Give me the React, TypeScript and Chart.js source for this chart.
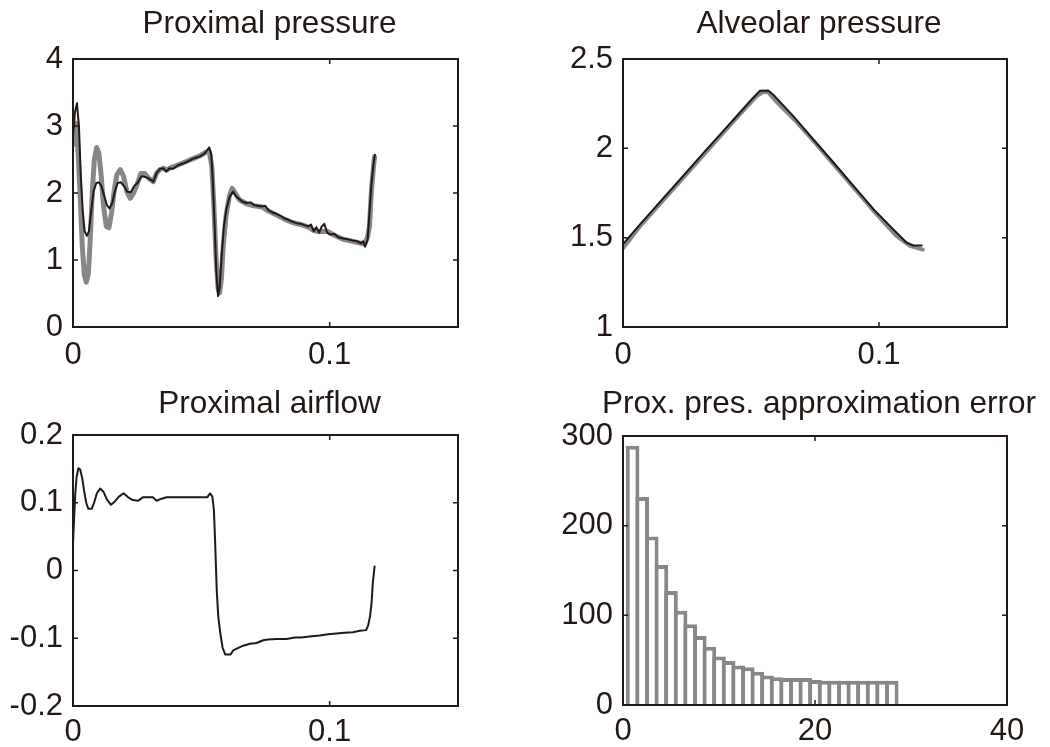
import React, { useEffect, useRef } from "react";
import { Chart, registerables } from "chart.js";

Chart.register(...registerables);

const INK = "#231815";
const GRAY = "#878787";
const FONT = "'Liberation Sans', Arial, Helvetica, sans-serif";

// ---------- Proximal pressure (top-left) ----------
const proxPressModelT = [0, 0.00078, 0.00155, 0.00233, 0.00298, 0.00376, 0.00453, 0.00544, 0.00622, 0.007, 0.008, 0.00907, 0.0101, 0.0111, 0.0122, 0.0132, 0.0142, 0.0153, 0.0163, 0.0174, 0.0187, 0.0199, 0.0212, 0.0225, 0.0238, 0.0251, 0.0267, 0.0282, 0.0298, 0.0313, 0.0326, 0.0339, 0.0352, 0.0363, 0.0376, 0.0389, 0.0404, 0.042, 0.0435, 0.0451, 0.0466, 0.0482, 0.0497, 0.0513, 0.0523, 0.0531, 0.0539, 0.0545, 0.0552, 0.0558, 0.0565, 0.0571, 0.0579, 0.0588, 0.0598, 0.0611, 0.0624, 0.0635, 0.0648, 0.0661, 0.0676, 0.0692, 0.0705, 0.072, 0.0738, 0.0749, 0.0762, 0.0777, 0.0793, 0.0808, 0.0824, 0.0839, 0.0855, 0.087, 0.0886, 0.0902, 0.0917, 0.0927, 0.0938, 0.0948, 0.0959, 0.0969, 0.0979, 0.099, 0.1003, 0.1018, 0.1034, 0.1052, 0.107, 0.1088, 0.1106, 0.1122, 0.113, 0.1138, 0.1148, 0.1155, 0.1163, 0.1171, 0.1176];
const proxPressModel = [2.85, 3.21, 3.34, 2.99, 2.3, 1.75, 1.43, 1.36, 1.43, 1.7, 2.02, 2.15, 2.16, 2.1, 1.95, 1.82, 1.77, 1.85, 2.02, 2.15, 2.16, 2.1, 2.02, 2.01, 2.1, 2.15, 2.25, 2.24, 2.21, 2.17, 2.3, 2.36, 2.37, 2.32, 2.37, 2.36, 2.4, 2.43, 2.45, 2.48, 2.51, 2.53, 2.55, 2.59, 2.64, 2.68, 2.57, 2.15, 1.5, 0.85, 0.46, 0.58, 1.05, 1.5, 1.77, 1.95, 2.02, 1.95, 1.91, 1.87, 1.85, 1.86, 1.82, 1.81, 1.8, 1.81, 1.74, 1.71, 1.69, 1.66, 1.62, 1.6, 1.57, 1.55, 1.54, 1.52, 1.5, 1.53, 1.43, 1.49, 1.41, 1.5, 1.54, 1.41, 1.38, 1.39, 1.34, 1.32, 1.31, 1.29, 1.28, 1.25, 1.28, 1.2, 1.31, 1.7, 2.15, 2.44, 2.57];

const proxPressMeasT = [0, 0.00052, 0.00117, 0.00194, 0.00285, 0.00363, 0.0044, 0.00518, 0.006, 0.0067, 0.0075, 0.0083, 0.0092, 0.0101, 0.011, 0.0119, 0.013, 0.014, 0.015, 0.0161, 0.0171, 0.0184, 0.0197, 0.021, 0.0223, 0.0236, 0.0249, 0.0264, 0.028, 0.0295, 0.0313, 0.0326, 0.0339, 0.0352, 0.0365, 0.0381, 0.0404, 0.0435, 0.0466, 0.0497, 0.0518, 0.0531, 0.0541, 0.0549, 0.0557, 0.0565, 0.0571, 0.0578, 0.0585, 0.0596, 0.0609, 0.062, 0.0632, 0.0648, 0.0676, 0.0705, 0.0738, 0.0762, 0.0793, 0.0824, 0.0855, 0.0886, 0.0917, 0.0938, 0.0959, 0.099, 0.1018, 0.1052, 0.1088, 0.1122, 0.1137, 0.1148, 0.1155, 0.1163, 0.1171, 0.1175];
const proxPressMeas = [2.72, 2.89, 3.04, 2.64, 1.9, 1.2, 0.78, 0.67, 0.8, 1.3, 2.0, 2.49, 2.68, 2.59, 2.25, 1.8, 1.5, 1.48, 1.7, 2.05, 2.27, 2.35, 2.25, 2.02, 1.92, 2.0, 2.12, 2.29, 2.29, 2.22, 2.17, 2.3, 2.35, 2.37, 2.34, 2.38, 2.41, 2.46, 2.51, 2.56, 2.61, 2.62, 2.39, 1.8, 1.05, 0.58, 0.51, 0.71, 1.2, 1.65, 1.95, 2.07, 2.0, 1.9, 1.84, 1.81, 1.79, 1.73, 1.67, 1.61, 1.56, 1.53, 1.49, 1.44, 1.42, 1.43, 1.37, 1.31, 1.28, 1.25, 1.24, 1.35, 1.5, 2.05, 2.4, 2.54];

// ---------- Alveolar pressure (top-right) ----------
const alvModelT = [0.0003, 0.0052, 0.0117, 0.0183, 0.0248, 0.0313, 0.0378, 0.0443, 0.0495, 0.0535, 0.0567, 0.0587, 0.0665, 0.0743, 0.0821, 0.09, 0.0978, 0.1056, 0.1108, 0.1134, 0.1167];
const alvModel = [1.468, 1.551, 1.656, 1.762, 1.866, 1.972, 2.075, 2.178, 2.262, 2.322, 2.324, 2.3, 2.18, 2.05, 1.922, 1.79, 1.66, 1.546, 1.472, 1.456, 1.456];
const alvMeasT = [0, 0.0065, 0.0143, 0.0222, 0.03, 0.0378, 0.0456, 0.0522, 0.0548, 0.0567, 0.06, 0.0678, 0.0756, 0.0834, 0.0913, 0.0991, 0.1069, 0.1121, 0.1171];
const alvMeas = [1.44, 1.561, 1.688, 1.814, 1.94, 2.065, 2.19, 2.292, 2.316, 2.314, 2.26, 2.148, 2.022, 1.892, 1.76, 1.63, 1.508, 1.454, 1.433];

// ---------- Proximal airflow (bottom-left) ----------
const flowT = [0, 0.0004, 0.0009, 0.0014, 0.0021, 0.0028, 0.0036, 0.0044, 0.0052, 0.006, 0.0073, 0.0083, 0.0093, 0.0106, 0.0119, 0.0132, 0.0148, 0.0163, 0.0179, 0.0197, 0.0215, 0.0233, 0.0254, 0.0272, 0.0311, 0.0326, 0.0345, 0.0365, 0.0443, 0.0523, 0.0534, 0.0543, 0.0549, 0.0554, 0.056, 0.0566, 0.0574, 0.0583, 0.0593, 0.0614, 0.0624, 0.064, 0.0663, 0.0689, 0.0715, 0.0741, 0.076, 0.0793, 0.0832, 0.0864, 0.089, 0.0929, 0.0961, 0.0994, 0.1026, 0.1058, 0.1091, 0.1117, 0.1142, 0.115, 0.1157, 0.1163, 0.1168, 0.1175];
const flow = [0.04, 0.074, 0.114, 0.138, 0.151, 0.149, 0.136, 0.116, 0.099, 0.091, 0.091, 0.101, 0.114, 0.121, 0.116, 0.105, 0.097, 0.102, 0.109, 0.114, 0.108, 0.104, 0.103, 0.108, 0.108, 0.103, 0.106, 0.108, 0.108, 0.108, 0.114, 0.109, 0.089, 0.04, -0.029, -0.068, -0.093, -0.114, -0.124, -0.124, -0.118, -0.115, -0.111, -0.108, -0.107, -0.103, -0.102, -0.101, -0.101, -0.099, -0.099, -0.097, -0.096, -0.094, -0.093, -0.092, -0.091, -0.089, -0.088, -0.081, -0.068, -0.049, -0.019, 0.006];

// ---------- Approximation error histogram (bottom-right) ----------
const errBins = [1, 2, 3, 4, 5, 6, 7, 8, 9, 10, 11, 12, 13, 14, 15, 16, 17, 18, 19, 20, 21, 22, 23, 24, 25, 26, 27, 28, 29, 30];
const errCounts = [289, 232, 188, 156, 127, 105, 90, 77, 65, 54, 49, 44, 42, 37, 33, 31, 30, 30, 30, 28, 27, 27, 27, 27, 27, 27, 27, 27, 0, 0];

// ---------- Tick labels ----------
const timeTicks = [0, 0.1];
const timeTickLabels = ["0", "0.1"];
const proxPressTicks = [0, 1, 2, 3, 4];
const proxPressTickLabels = ["0", "1", "2", "3", "4"];
const alvTicks = [1, 1.5, 2, 2.5];
const alvTickLabels = ["1", "1.5", "2", "2.5"];
const flowTicks = [-0.2, -0.1, 0, 0.1, 0.2];
const flowTickLabels = ["-0.2", "-0.1", "0", "0.1", "0.2"];
const errXTicks = [0, 20, 40];
const errXTickLabels = ["0", "20", "40"];
const errYTicks = [0, 100, 200, 300];
const errYTickLabels = ["0", "100", "200", "300"];

const pts = (xs: number[], ys: number[]) => xs.map((x, i) => ({ x, y: ys[i] }));

const boxPlugin = {
  id: "matlabBox",
  afterDraw(chart: any, _args: any, opts: any) {
    const { ctx, chartArea: a, scales } = chart;
    ctx.save();
    ctx.strokeStyle = INK;
    ctx.lineWidth = 1.5;
    const L = 5;
    ctx.beginPath();
    for (const v of opts.xTicks) {
      const px = scales.x.getPixelForValue(v);
      ctx.moveTo(px, a.bottom);
      ctx.lineTo(px, a.bottom - L);
      ctx.moveTo(px, a.top);
      ctx.lineTo(px, a.top + L);
    }
    for (const v of opts.yTicks) {
      const py = scales.y.getPixelForValue(v);
      ctx.moveTo(a.left, py);
      ctx.lineTo(a.left + L, py);
      ctx.moveTo(a.right, py);
      ctx.lineTo(a.right - L, py);
    }
    ctx.stroke();
    ctx.lineWidth = 2;
    ctx.strokeRect(a.left, a.top, a.right - a.left, a.bottom - a.top);
    ctx.font = `31.5px ${FONT}`;
    ctx.fillStyle = INK;
    ctx.textAlign = "center";
    ctx.textBaseline = "alphabetic";
    ctx.fillText(opts.title, (a.left + a.right) / 2 + 4, opts.titleY);
    ctx.restore();
  },
};

type PanelSpec = {
  type: "line" | "bar";
  datasets: any[];
  title: string;
  titleY: number;
  xMin: number;
  xMax: number;
  xTicks: number[];
  xLabels: string[];
  yMin: number;
  yMax: number;
  yTicks: number[];
  yLabels: string[];
  yWidth: number;
  xHeight: number;
  xPad: number;
  padding: { top: number; right: number; bottom: number; left: number };
};

function buildConfig(p: PanelSpec): any {
  const tickFont = { family: FONT, size: 31, lineHeight: 1.2 };
  return {
    type: p.type,
    data: { datasets: p.datasets },
    plugins: [boxPlugin],
    options: {
      animation: false,
      responsive: false,
      devicePixelRatio: 1,
      layout: { padding: p.padding },
      plugins: {
        legend: { display: false },
        tooltip: { enabled: false },
        title: { display: false },
        matlabBox: { title: p.title, titleY: p.titleY, xTicks: p.xTicks, yTicks: p.yTicks },
      },
      scales: {
        x: {
          type: "linear",
          min: p.xMin,
          max: p.xMax,
          offset: false,
          grid: { display: false, drawTicks: false, offset: false },
          border: { display: false },
          ticks: {
            font: tickFont,
            color: INK,
            padding: p.xPad,
            autoSkip: false,
            maxRotation: 0,
            minRotation: 0,
            callback: (_v: any, i: number) => p.xLabels[i],
          },
          afterBuildTicks: (s: any) => {
            s.ticks = p.xTicks.map((v) => ({ value: v }));
          },
          afterFit: (s: any) => {
            s.height = p.xHeight;
          },
        },
        y: {
          type: "linear",
          min: p.yMin,
          max: p.yMax,
          grid: { display: false, drawTicks: false },
          border: { display: false },
          ticks: {
            font: tickFont,
            color: INK,
            padding: 10,
            autoSkip: false,
            callback: (_v: any, i: number) => p.yLabels[i],
          },
          afterBuildTicks: (s: any) => {
            s.ticks = p.yTicks.map((v) => ({ value: v }));
          },
          afterFit: (s: any) => {
            s.width = p.yWidth;
          },
        },
      },
    },
  };
}

const lineDs = (data: any[], color: string, width: number) => ({
  type: "line",
  data,
  borderColor: color,
  backgroundColor: color,
  borderWidth: width,
  pointRadius: 0,
  tension: 0,
  fill: false,
  borderJoinStyle: "round",
  borderCapStyle: "round",
});

const panels: { left: number; top: number; w: number; h: number; spec: PanelSpec }[] = [
  {
    left: 0,
    top: 0,
    w: 525,
    h: 373,
    spec: {
      type: "line",
      datasets: [
        lineDs(pts(proxPressModelT, proxPressModel), INK, 2),
        lineDs(pts(proxPressMeasT, proxPressMeas), GRAY, 5),
      ],
      title: "Proximal pressure",
      titleY: 33,
      xMin: 0,
      xMax: 0.15,
      xTicks: timeTicks,
      xLabels: timeTickLabels,
      yMin: 0,
      yMax: 4,
      yTicks: proxPressTicks,
      yLabels: proxPressTickLabels,
      yWidth: 73,
      xHeight: 46,
      xPad: 10,
      padding: { top: 59, right: 67, bottom: 0, left: 0 },
    },
  },
  {
    left: 525,
    top: 0,
    w: 525,
    h: 373,
    spec: {
      type: "line",
      datasets: [
        lineDs(pts(alvModelT, alvModel), INK, 2),
        lineDs(pts(alvMeasT, alvMeas), GRAY, 4),
      ],
      title: "Alveolar pressure",
      titleY: 33,
      xMin: 0,
      xMax: 0.15,
      xTicks: timeTicks,
      xLabels: timeTickLabels,
      yMin: 1,
      yMax: 2.5,
      yTicks: alvTicks,
      yLabels: alvTickLabels,
      yWidth: 98,
      xHeight: 46,
      xPad: 10,
      padding: { top: 59, right: 43, bottom: 0, left: 0 },
    },
  },
  {
    left: 0,
    top: 373,
    w: 525,
    h: 374,
    spec: {
      type: "line",
      datasets: [lineDs(pts(flowT, flow), INK, 2)],
      title: "Proximal airflow",
      titleY: 40,
      xMin: 0,
      xMax: 0.15,
      xTicks: timeTicks,
      xLabels: timeTickLabels,
      yMin: -0.2,
      yMax: 0.2,
      yTicks: flowTicks,
      yLabels: flowTickLabels,
      yWidth: 73,
      xHeight: 41,
      xPad: 8,
      padding: { top: 62, right: 67, bottom: 0, left: 0 },
    },
  },
  {
    left: 525,
    top: 373,
    w: 525,
    h: 374,
    spec: {
      type: "bar",
      datasets: [
        {
          type: "bar",
          data: pts(errBins, errCounts),
          backgroundColor: "#ffffff",
          borderColor: GRAY,
          borderWidth: 4,
          borderSkipped: "start",
          barThickness: 13.6,
          inflateAmount: 0,
        },
      ],
      title: "Prox. pres. approximation error",
      titleY: 40,
      xMin: 0,
      xMax: 40,
      xTicks: errXTicks,
      xLabels: errXTickLabels,
      yMin: 0,
      yMax: 300,
      yTicks: errYTicks,
      yLabels: errYTickLabels,
      yWidth: 98,
      xHeight: 42,
      xPad: 8,
      padding: { top: 63, right: 43, bottom: 0, left: 0 },
    },
  },
];

function Panel({ left, top, w, h, spec }: { left: number; top: number; w: number; h: number; spec: PanelSpec }) {
  const ref = useRef<HTMLCanvasElement | null>(null);
  useEffect(() => {
    if (!ref.current) return;
    const chart = new Chart(ref.current, buildConfig(spec));
    return () => chart.destroy();
  }, []);
  return (
    <canvas
      ref={ref}
      width={w}
      height={h}
      style={{ position: "absolute", left, top, width: w, height: h }}
    />
  );
}

export default function App() {
  return (
    <div style={{ position: "absolute", left: 0, top: 0, width: 1050, height: 747, background: "#ffffff" }}>
      {panels.map((p, i) => (
        <Panel key={i} {...p} />
      ))}
    </div>
  );
}
